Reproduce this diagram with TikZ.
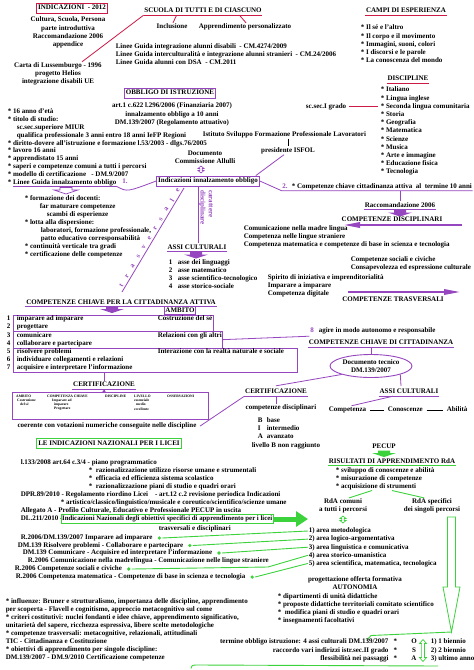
\documentclass[tikz,border=0pt]{standalone}
\usepackage{fontspec}
\setmainfont{Liberation Serif}
\usetikzlibrary{arrows.meta,shapes.geometric}
\definecolor{crim}{RGB}{205,25,70}
\definecolor{pur}{RGB}{150,70,190}
\definecolor{grn}{RGB}{60,210,60}
\newcommand\fs{\fontsize{7}{8.2}\selectfont\bfseries}
\newcommand\ftiny{\fontsize{3.6}{4}\selectfont\bfseries}
\newcommand\blockdown[3]{\path[#3] (#1-6,#2-2.5) -- (#1+6,#2-2.5) -- (#1+6,#2) -- (#1+12,#2) -- (#1,#2+4) -- (#1-12,#2) -- (#1-6,#2) -- cycle;}
\newcommand\dblarr[6]{\path[#6] (#1,#2-#3) -- (#1+#5,#2-#3+#4) -- (#1+0.4*#5,#2-#3+#4) -- (#1+0.4*#5,#2+#3-#4) -- (#1+#5,#2+#3-#4) -- (#1,#2+#3) -- (#1-#5,#2+#3-#4) -- (#1-0.4*#5,#2+#3-#4) -- (#1-0.4*#5,#2-#3+#4) -- (#1-#5,#2-#3+#4) -- cycle;}
\newcommand\undl[2]{\draw[#1,line width=0.75pt] (#2.south west) -- (#2.south east);}
\begin{document}
\begin{tikzpicture}[x=1pt,y=-1pt,
  t/.style={inner sep=0.6pt,font=\fs,text height=5.2pt,text depth=1.6pt},
  tl/.style={t,anchor=west},
  tr/.style={t,anchor=east},
  ml/.style={inner sep=0.6pt,font=\fs,align=center},
  cbox/.style={t,draw=crim,line width=0.9pt,inner sep=1.6pt},
  pbox/.style={t,draw=pur,line width=0.9pt,inner sep=1.6pt},
  gbox/.style={t,draw=grn,line width=0.9pt,inner sep=1.6pt},
  tabbox/.style={draw=pur,line width=0.8pt,anchor=north west,inner sep=0},
  tiny/.style={inner sep=0pt,font=\ftiny,anchor=west},
  cl/.style={crim,line width=0.8pt},
  pl/.style={pur,line width=0.8pt},
  gl/.style={grn,line width=0.9pt}]
\useasboundingbox (0,0) rectangle (474,670);
\fill[white] (0,0) rectangle (474,670);
% ---------- top
\node[cbox] (ind) at (72,8) {INDICAZIONI~ - 2012};
\node[t] (cult) at (68,20) {Cultura, Scuola, Persona};
\node[t] (parte) at (68,28.5) {parte introduttiva};
\node[t] (racc) at (68,37) {Raccomandazione 2006};
\node[t] (app) at (68,45) {appendice};
\node[t] (carta) at (58,66) {Carta di Lussemburgo - 1996};
\node[t] (helios) at (58,74) {progetto Helios};
\node[t] (ue) at (58,82) {integrazione disabili UE};
\node[t] (scuola) at (203,11) {SCUOLA DI TUTTI E DI CIASCUNO};
\undl{crim}{scuola}
\draw[cl] ([xshift=24pt]carta.north) -- (scuola.south west);
\node[t] (incl) at (172,27) {Inclusione};
\node[t] (appr) at (245,27) {Apprendimento personalizzato};
\draw[cl] ([xshift=1pt]incl.north) -- ([xshift=33pt]scuola.south west);
\draw[cl] ([xshift=1pt]appr.north) -- ([xshift=-23pt]scuola.south east);
\node[tl] (lg1) at (115,47) {Linee Guida integrazione alunni disabili~ - CM.4274/2009};
\node[tl] (lg2) at (115,55) {Linee Guida interculturalità e integrazione alunni stranieri~ - CM.24/2006};
\node[tl] (lg3) at (115,63) {Linee Guida alunni con DSA~ - CM.2011};
\node[t] (campi) at (406,11) {CAMPI DI ESPERIENZA};
\undl{crim}{campi}
\foreach \tx [count=\i] in {{* Il sé e l'altro},{* Il corpo e il movimento},{* Immagini, suoni, colori},{* I discorsi e le parole},{* La conoscenza del mondo}}
  \node[tl] (ce\i) at (360,{28+8.2*(\i-1)}) {\tx};
\node[t] (disc) at (408,79) {DISCIPLINE};
\undl{crim}{disc}
\foreach \tx [count=\i] in {Italiano,Lingua inglese,Seconda lingua comunitaria,Storia,Geografia,Matematica,Scienze,Musica,Arte e immagine,Educazione fisica,Tecnologia}
  \node[tl] (d\i) at (380,{90+8.2*(\i-1)}) {* \tx};
\node[tr] (sec1) at (347,106.4) {sc.sec.I grado};
\draw[cl] ([xshift=2pt]sec1.east) -- ([xshift=-2pt]d3.west);
% ---------- obbligo
\node[pbox] (obb) at (170,93) {OBBLIGO DI ISTRUZIONE};
\node[t] (art1) at (172,106) {art.1 c.622 l.296/2006 (Finanziaria 2007)};
\node[t] (inn) at (172,114.5) {innalzamento obbligo a 10 anni};
\node[t] (dm139) at (172,123) {DM.139/2007 (Regolamento attuativo)};
\node[tl] (o1) at (7,111.5) {* 16 anno d'età};
\node[tl] (o2) at (7,119.5) {* titolo di studio:};
\node[tl] (o3) at (16,127.5) {sc.sec.superiore MIUR};
\node[tl] (o4) at (16,135.3) {qualifica professionale 3 anni entro 18 anni IeFP Regioni};
\node[tl] (o5) at (7,143.2) {* diritto-dovere all'istruzione e formazione l.53/2003 - dlgs.76/2005};
\node[tl] (o6) at (7,151) {* lavoro 16 anni};
\node[tl] (o7) at (7,159) {* apprendistato 15 anni};
\node[tl] (o8) at (7,167) {* saperi e competenze comuni a tutti i percorsi};
\node[tl] (o9) at (7,174.7) {* modello di certificazione~~ - DM.9/2007};
\node[tl] (o10) at (7,182.4) {* Linee Guida innalzamento obbligo};
\draw[pl] ([xshift=6pt]o10.south west) -- (o10.south east);
\node[tl] (ist) at (202,134.5) {Istituto Sviluppo Formazione Professionale Lavoratori};
\node[t] (isfol) at (288,150.5) {presidente ISFOL};
\draw[line width=0.6pt] (isfol.north |- ist.south) -- (isfol.north);
\node[ml] (doc) at (205,157) {Documento\\Commissione Allulli};
\node[pbox] (iio) at (208,181) {Indicazioni innalzamento obbligo};
\dblarr{201}{169.5}{3.5}{2.5}{3}{draw=pur,line width=0.6pt}
\draw[pl] (o10.south east) .. controls (127,192) .. (iio.west);
\node[t,text=pur] (n1) at (125,181.5) {1.};
\draw[pl] ([xshift=-4pt]isfol.south) -- ([xshift=-4pt]iio.north east);
\node[t,text=pur] (n2) at (285,186.5) {2.};
\node[tl] (cc10) at (291,186.5) {* Competenze chiave cittadinanza attiva~ al~ termine 10 anni};
\draw[pl] (iio.east) -- (n2.south west) -- (cc10.south east);
\blockdown{66}{190}{draw=pur,line width=0.7pt}
\foreach \tx/\xx/\yy in {{* formazione dei docenti:}/24/199, {far maturare competenze}/39/207, {scambi di esperienze}/46/215, {* lotta alla dispersione:}/24/223, {laboratori, formazione professionale,}/40/231, {patto educativo corresponsabilità}/40/239, {* continuità verticale tra gradi}/24/247, {* certificazione delle competenze}/24/255}
  \node[tl] (f\yy) at (\xx,\yy) {\tx};
% ---------- competenze disciplinari
\node[t] (racc2) at (400,205.5) {Raccomandazione 2006};
\undl{pur}{racc2}
\draw[pl] (cc10.south -| racc2.north) -- (racc2.north);
\blockdown{400}{212.5}{fill=pur}
\node[t] (compd) at (392,220) {COMPETENZE DISCIPLINARI};
\coordinate (da1) at (462,225); \coordinate (da2) at (344,225);
\draw[pur,line width=1.8pt,-{Triangle[length=16pt,width=5.5pt]}] (da1) -- (da2);
\node[tl] (cd1) at (243,228.5) {Comunicazione nella madre lingua};
\node[tl] (cd2) at (243,236.5) {Competenza nelle lingue straniere};
\node[tl] (cd3) at (243,244.5) {Competenza matematica e competenze di base in scienza e tecnologia};
\node[tl] (cs1) at (350,260) {Competenze sociali e civiche};
\node[tl] (cs2) at (350,268) {Consapevolezza ed espressione culturale};
\node[tl] (sp1) at (267,277.5) {Spirito di iniziativa e imprenditorialità};
\node[tl] (sp2) at (267,285.5) {Imparare a imparare};
\node[tl] (sp3) at (267,293.5) {Competenza digitale};
\coordinate (ta1) at (348,292); \coordinate (ta2) at (460,292);
\draw[pur,line width=1.8pt,-{Triangle[length=16pt,width=5.5pt]}] (ta1) -- (ta2);
\node[t] (comptr) at (393,300) {COMPETENZE TRASVERSALI};
% ---------- assi
\node[t] (assi) at (197,247.5) {ASSI CULTURALI};
\undl{pur}{assi}
\draw[pl] ([xshift=-10pt]iio.south) -- ([xshift=-10pt]iio.south |- assi.north);
\node[rotate=-90,align=left,font=\fs,inner sep=0pt,text=pur,anchor=north west] (car) at (213,190) {carattere\\disciplinare};
\coordinate (dgA) at (122,292); \coordinate (dgB) at (184,188);
\draw[pl] (dgB) -- (dgA);
\coordinate (lA) at (118.6,290); \coordinate (lB) at (180.6,186);
\foreach \ch [count=\k] in {t,r,a,s,v,e,r,s,a,l,e}
  \path (lA) -- (lB) node[pos={(\k-0.5)/11},rotate=59.2,font=\fs,inner sep=0pt,text=pur] (lt\k) {\ch};
\blockdown{196}{254.5}{fill=pur}
\foreach \tx [count=\i] in {asse dei linguaggi,asse matematico,asse scientifico-tecnologico,asse storico-sociale}{
  \node[tl] (an\i) at (168,{263+8*(\i-1)}) {\i};
  \node[tl] (as\i) at (177,{263+8*(\i-1)}) {\tx};}
% ---------- competenze chiave
\node[t] (cca) at (121,302.5) {COMPETENZE CHIAVE PER LA CITTADINANZA ATTIVA};
\undl{pur}{cca}
\blockdown{112}{309}{fill=pur}
\node[pbox,inner sep=1pt] (amb) at (180,310.5) {AMBITO};
\node[tabbox,minimum width=200pt,minimum height=16pt] (tabA) at (13,315) {};
\node[tabbox,minimum width=209pt,minimum height=16.5pt] (tabB) at (13,331) {};
\node[tabbox,minimum width=284pt,minimum height=24.5pt] (tabC) at (13,347.5) {};
\foreach \nn/\tx/\yy in {1/imparare ad imparare/319, 2/progettare/327, 3/comunicare/335.5, 4/collaborare e partecipare/343.5, 5/risolvere problemi/352, 6/individuare collegamenti e relazioni/360, 7/acquisire e interpretare l'informazione/368}{
  \node[tl] (tn\nn) at (6,\yy) {\nn};
  \node[tl] (ts\nn) at (16,\yy) {\tx};}
\node[tl] (amb1) at (157,319) {Costruzione del sé};
\node[tl] (amb2) at (157,335.5) {Relazioni con gli altri};
\node[tl] (amb3) at (157,352) {Interazione con la realtà naturale e sociale};
\node[t,text=pur] (n8) at (312,331) {8};
\node[tl] (agire) at (318,331) {agire in modo autonomo e responsabile};
\draw[pl] (tabB.east) -- ([yshift=-1pt]n8.south west);
\node[t] (ccc) at (381,343) {COMPETENZE CHIAVE DI CITTADINANZA};
\undl{pur}{ccc}
\node[ellipse,draw=pur,line width=0.9pt,inner sep=0.5pt,font=\fs,align=center,minimum width=74pt,minimum height=23pt] (dt) at (371,366) {Documento tecnico\\DM.139/2007};
\draw[pl] (ccc.south -| dt.north) -- (dt.north);
\node[t] (cert2) at (276,392) {CERTIFICAZIONE};
\undl{pur}{cert2}
\node[t] (assi2) at (409,392) {ASSI CULTURALI};
\undl{pur}{assi2}
\draw[pl] (dt.south west) -- ([yshift=2pt]cert2.north);
\draw[pl] (dt.south east) -- ([yshift=2pt,xshift=-8pt]assi2.north);
\node[t] (cdisc) at (281,408) {competenze disciplinari};
\draw[pl] (cert2.south) -- (cert2.south |- cdisc.north);
\foreach \aa/\bb/\yy in {B/base/420.5, I/intermedio/428.7, A/avanzato/437}{
  \node[tl] (lv\aa) at (257,\yy) {\aa};
  \node[tl] (lw\aa) at (266,\yy) {\bb};}
\node[tl] (lvnr) at (251,445.3) {livello B non raggiunto};
\node[tl] (comp) at (328,410) {Competenza};
\node[tl] (cono) at (387,410) {Conoscenze};
\node[tl] (abil) at (446,410) {Abilità};
\draw[line width=0.6pt] ([xshift=3pt]comp.east) -- ([xshift=-3pt]cono.west);
\draw[line width=0.6pt] ([xshift=3pt]cono.east) -- ([xshift=-3pt]abil.west);
\draw[pl] ([xshift=-16pt]assi2.south) -- ([xshift=4pt]comp.north);
\node[t] (cert1) at (104,385) {CERTIFICAZIONE};
\undl{pur}{cert1}
\draw[pl] (tabC.south -| cert1.north) -- (cert1.north);
\node[tabbox,minimum width=196pt,minimum height=27pt] (tabD) at (12,391.5) {};
\draw[pl] (cert1.south) -- (cert1.south |- tabD.north);
\fill[pur] (cert1.south |- tabD.north) circle (1.6);
\foreach \tx/\xx/\yy in {AMBITO/16/396, COMPETENZA CHIAVE/47/396, DISCIPLINE/105/396, LIVELLO/134/396, OSSERVAZIONI/167/396, Costruzione/17/400.5, del sé/20/404.5, Imparare ad/52/400.5, imparare/54/404.5, Progettare/54/409, essenziale/134/400.5, medio/136/404.5, eccellente/134/409}
  \node[tiny] (tb\xx\yy) at (\xx,\yy) {\tx};
\node[t] (coer) at (107,426) {coerente con votazioni numeriche conseguite nelle discipline};
\draw[pl] ([xshift=3pt]coer.east) -- (cert2.south west);
% ---------- licei
\node[gbox] (licei) at (109,443.5) {LE INDICAZIONI NAZIONALI PER I LICEI};
\node[tl] (l133) at (20,462.5) {l.133/2008 art.64 c.3/4 - piano programmatico};
\node[tl] (r1) at (88,470.5) {*~ razionalizzazione utilizzo risorse umane e strumentali};
\node[tl] (r2) at (88,478.5) {*~ efficacia ed efficienza sistema scolastico};
\node[tl] (r3) at (88,486.5) {*~ razionalizzazione piani di studio e quadri orari};
\node[tl] (dpr) at (20,494.5) {DPR.89/2010 - Regolamento riordino Licei~~~ - art.12 c.2 revisione periodica Indicazioni};
\node[tl] (artis) at (60,502.5) {* artistico/classico/linguistico/musicale e coreutico/scientifico/scienze umane};
\node[tl] (alleg) at (20,510.5) {Allegato A - Profilo Culturale, Educativo e Professionale PECUP in uscita};
\node[tl] (dl) at (20,519) {DL.211/2010 -};
\node[gbox,inner sep=1.2pt,anchor=west,font=\fontsize{6.8}{8}\selectfont\bfseries] (indn) at (60.5,519) {Indicazioni Nazionali degli obiettivi specifici di apprendimento per i licei};
\coordinate (gtip) at (308,519);
\draw[grn,line width=5pt,-{Triangle[length=12pt,width=15pt]}] (indn.east) -- (gtip);
\node[tl] (trd) at (158,528.5) {trasversali e disciplinari};
\node[tl] (g1) at (20,538) {R.2006/DM.139/2007 Imparare ad imparare};
\node[tl] (g2) at (17,545.5) {DM.139 Risolvere problemi - Collaborare e partecipare};
\node[tl] (g3) at (22,553) {DM.139 Comunicare - Acquisire ed interpretare l'informazione};
\node[tl] (g4) at (27,561) {R.2006 Comunicazione nella madrelingua - Comunicazione nelle lingue straniere};
\node[tl] (g5) at (14,569) {R.2006 Competenze sociali e civiche};
\node[tl] (g6) at (15,577) {R.2006 Competenza matematica - Competenze di base in scienza e tecnologia};
\foreach \tx [count=\i] in {area metodologica,area logico-argomentativa,area linguistica e comunicativa,area storico-umanistica,{area scientifica, matematica, tecnologica}}
  \node[tl] (ar\i) at (308,{531+8.1*(\i-1)}) {\i) \tx};
\foreach \g in {1,2,3,5,6}{
  \coordinate (gd\g) at ([xshift=6pt]g\g.east);
  \fill[grn] (gd\g) circle (1.8);}
\coordinate (gk) at (268,567);
\draw[gl] ([xshift=3pt]gd1) -- (ar1.west);
\draw[gl] ([xshift=3pt]gd2) -- (ar2.west);
\draw[gl] ([xshift=3pt]gd3) -- (ar3.west);
\draw[gl] ([xshift=3pt]gd5) -- (gk) -- (ar4.west);
\draw[gl] ([xshift=3pt]gd6) -- (ar5.west);
% ---------- pecup
\node[t] (pecup) at (384,446.5) {PECUP};
\blockdown{384}{453}{fill=grn}
\node[t] (ris) at (392,461.5) {RISULTATI DI APPRENDIMENTO RdA};
\undl{grn}{ris}
\node[tl] (ri1) at (335,470.5) {* sviluppo di conoscenze e abilità};
\node[tl] (ri2) at (335,478.5) {* misurazione di competenze};
\node[tl] (ri3) at (335,486.5) {* acquisizione di strumenti};
\node[ml] (rdac) at (343,506) {RdA comuni\\a tutti i percorsi};
\node[ml] (rdas) at (432,506) {RdA specifici\\dei singoli percorsi};
\coordinate (fk1) at (372,490.5); \coordinate (fk2) at (392,490.5);
\draw[gl] (fk1) -- ([xshift=6pt]rdac.north);
\draw[gl] (fk2) -- ([xshift=-8pt]rdas.north);
\dblarr{343}{519.5}{3.5}{2.5}{3}{draw=grn,line width=0.7pt}
\draw[grn,line width=0.8pt] (447.5,517) -- (455.5,517) -- (455.5,587) -- (460,587) -- (451.5,632) -- (443,587) -- (447.5,587) -- cycle;
\coordinate (gtip2) at (451.5,632);
\coordinate (hk1) at (371,635.5); \coordinate (hk2) at (367,640);
\draw[gl] (gtip2) -- (hk1) -- (hk2);
\node[t] (prog) at (355,580) {progettazione offerta formativa};
\node[t] (auto) at (355,588) {AUTONOMIA};
\foreach \tx [count=\i] in {{* dipartimenti di unità didattiche},{* proposte didattiche territoriali comitato scientifico},{*~ modifica piani di studio e quadri orari},{* insegnamenti facoltativi}}
  \node[tl] (au\i) at (277,{596.5+8*(\i-1)}) {\tx};
\foreach \tx [count=\i] in {{* influenze: Bruner e strutturalismo, importanza delle discipline, apprendimento},{per scoperta - Flavell e cognitismo, approccio metacognitivo sul come},{* criteri costitutivi: nuclei fondanti e idee chiave, apprendimento significativo,},{unitarietà del sapere, ricchezza espressiva, libere scelte metodologiche},{* competenze trasversali: metacognitive, relazionali, attitudinali},{TIC - Cittadinanza e Costituzione},{* obiettivi di apprendimento per singole discipline:},{DM.139/2007 - DM.9/2010 Certificazione competenze}}
  \node[tl] (bp\i) at (5,{602+8*(\i-1)}) {\tx};
\node[tr] (tm1) at (398,642) {termine obbligo istruzione: 4 assi culturali DM.139/2007~~ *};
\node[tr] (tm2) at (398,650.5) {raccordo vari indirizzi istr.sec.II grado~~ *};
\node[tr] (tm3) at (398,659) {flessibilità nei passaggi~~ *};
\node[t] (oO) at (414,642) {O};
\node[t] (oS) at (414,650.5) {S};
\node[t] (oA) at (414,659) {A};
\dblarr{423}{650.5}{11}{4}{3.5}{draw=grn,line width=0.7pt}
\node[tl] (bi1) at (430,642) {1) 1 biennio};
\node[tl] (bi2) at (430,650.5) {2) 2 biennio};
\node[tl] (bi3) at (430,659) {3) ultimo anno};
\coordinate (bl1) at (191,668.5); \coordinate (bl2) at (198,665); \coordinate (bl3) at (438,666);
\draw[gl] (bl1) .. controls (192,665) .. (bl2) -- (bl3);
\end{tikzpicture}
\end{document}
